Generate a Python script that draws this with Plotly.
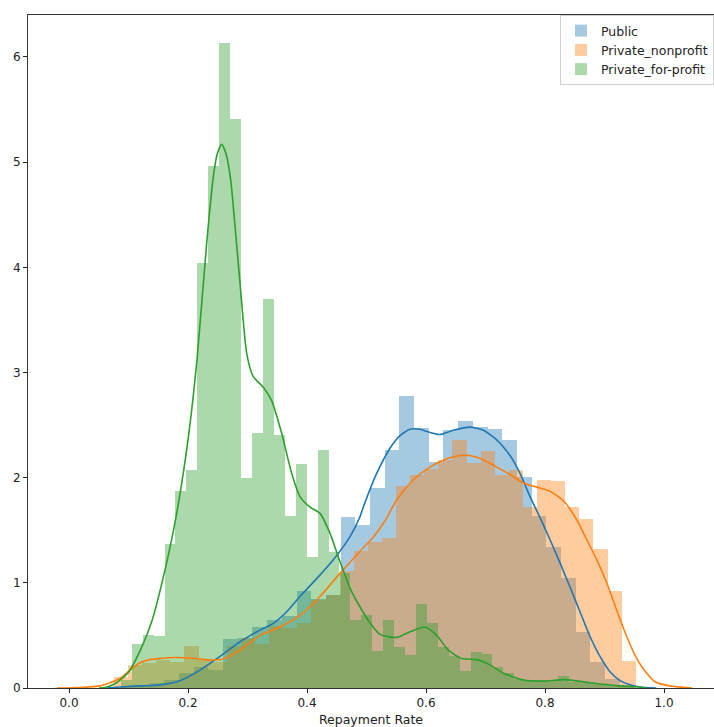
import numpy as np
import plotly.graph_objects as go

# ---------------- data ----------------
series_names = ["Public", "Private_nonprofit", "Private_for-profit"]

# histogram bins: first left edge, bin width, densities
public_bin_start = 0.0861
public_bin_width = 0.02469
public_density = [0.01, 0.03, 0.05, 0.08, 0.14, 0.20, 0.17, 0.47, 0.48, 0.58,
                  0.65, 0.68, 0.92, 0.85, 0.88, 1.63, 1.55, 1.90, 2.26, 2.78,
                  2.47, 2.15, 2.45, 2.54, 2.48, 2.46, 2.36, 2.01, 1.64, 1.34,
                  1.05, 0.535, 0.25, 0.09, 0.03]

nonprofit_bin_start = 0.0756
nonprofit_bin_width = 0.0237
nonprofit_density = [0.10, 0.22, 0.24, 0.27, 0.25, 0.40, 0.28, 0.25, 0.40, 0.48,
                     0.42, 0.59, 0.57, 0.62, 0.84, 0.88, 1.11, 1.30, 1.39, 1.43,
                     1.92, 2.03, 2.08, 2.17, 2.36, 2.14, 2.25, 2.03, 2.07, 1.72,
                     1.98, 1.97, 1.72, 1.61, 1.32, 0.92, 0.26]

forprofit_bin_start = 0.0871
forprofit_bin_width = 0.01837
forprofit_density = [0.08, 0.42, 0.50, 0.49, 1.37, 1.87, 2.07, 4.04, 4.96, 6.13,
                     5.41, 2.00, 2.42, 3.70, 2.41, 1.64, 2.13, 1.25, 2.26, 1.29,
                     1.09, 0.65, 0.69, 0.35, 0.65, 0.39, 0.31, 0.80, 0.62, 0.39,
                     0.30, 0.165, 0.34, 0.32, 0.20, 0.14, 0.09, 0.08, 0.08, 0.07,
                     0.11, 0.06, 0.05, 0.04, 0.03, 0.02, 0.01]

# KDE curves
public_kde_x = [0.0605, 0.0857, 0.1193, 0.1529, 0.1866, 0.2202, 0.2538, 0.2874,
                0.3210, 0.3434, 0.3659, 0.3882, 0.4163, 0.4442, 0.4723, 0.4891,
                0.4946, 0.5171, 0.5395, 0.5563, 0.5731, 0.5899, 0.6067, 0.6235,
                0.6459, 0.6739, 0.6963, 0.7188, 0.7412, 0.7580, 0.7748, 0.7916,
                0.8084, 0.8252, 0.8420, 0.8588, 0.8756, 0.8924, 0.9092, 0.9261,
                0.9429, 0.9597, 0.9866]
public_kde_y = [0.0, 0.01, 0.02, 0.03, 0.07, 0.17, 0.30, 0.44,
                0.55, 0.615, 0.725, 0.87, 1.04, 1.22, 1.44, 1.63,
                1.72, 2.04, 2.28, 2.40, 2.46, 2.46, 2.43, 2.41,
                2.45, 2.48, 2.45, 2.36, 2.21, 2.04, 1.82, 1.62,
                1.41, 1.19, 0.96, 0.725, 0.49, 0.30, 0.155, 0.07,
                0.03, 0.01, 0.0]

nonprofit_kde_x = [-0.0202, 0.0185, 0.0521, 0.0689, 0.0857, 0.1025, 0.1193, 0.1361,
                   0.1529, 0.1782, 0.2034, 0.2202, 0.2370, 0.2588, 0.2874, 0.3210,
                   0.3546, 0.3882, 0.4218, 0.4555, 0.4891, 0.5109, 0.5311, 0.5508,
                   0.5787, 0.6067, 0.6348, 0.6571, 0.6739, 0.6963, 0.7188, 0.7412,
                   0.7635, 0.7861, 0.8084, 0.8308, 0.8533, 0.8701, 0.8869, 0.9037,
                   0.9205, 0.9373, 0.9541, 0.9709, 0.9849, 1.0101, 1.0471]
nonprofit_kde_y = [0.0, 0.005, 0.02, 0.05, 0.09, 0.17, 0.24, 0.27,
                   0.28, 0.29, 0.285, 0.275, 0.265, 0.275, 0.36, 0.50,
                   0.58, 0.69, 0.87, 1.09, 1.30, 1.43, 1.59, 1.79,
                   1.98, 2.10, 2.18, 2.21, 2.21, 2.17, 2.10, 2.03,
                   1.95, 1.91, 1.87, 1.78, 1.60, 1.41, 1.22, 1.00,
                   0.74, 0.49, 0.28, 0.14, 0.06, 0.02, 0.0]

forprofit_kde_x = [0.0504, 0.0639, 0.0800, 0.1000, 0.1200, 0.1400, 0.1600, 0.1800,
                   0.2000, 0.2156, 0.2314, 0.2425, 0.2492, 0.2566, 0.2639, 0.2718,
                   0.2790, 0.2874, 0.2987, 0.3097, 0.3266, 0.3407, 0.3575, 0.3743,
                   0.3882, 0.4050, 0.4218, 0.4387, 0.4543, 0.4723, 0.4891, 0.5059,
                   0.5227, 0.5508, 0.5731, 0.5983, 0.6180, 0.6375, 0.6600, 0.6852,
                   0.7076, 0.7299, 0.7635, 0.7971, 0.8336, 0.8756, 0.9261, 0.9597,
                   0.9714]
forprofit_kde_y = [0.0, 0.01, 0.05, 0.15, 0.36, 0.65, 1.09, 1.63,
                   2.36, 3.15, 4.23, 4.86, 5.08, 5.17, 5.08, 4.83,
                   4.39, 3.85, 3.18, 2.96, 2.86, 2.73, 2.42, 2.04,
                   1.82, 1.72, 1.66, 1.47, 1.22, 0.95, 0.77, 0.62,
                   0.51, 0.48, 0.535, 0.58, 0.50, 0.36, 0.28, 0.27,
                   0.22, 0.14, 0.076, 0.065, 0.08, 0.05, 0.02, 0.01,
                   0.0]

x_tick_vals = [0.0, 0.2, 0.4, 0.6, 0.8, 1.0]
x_tick_text = ["0.0", "0.2", "0.4", "0.6", "0.8", "1.0"]
y_tick_vals = [0, 1, 2, 3, 4, 5, 6]
x_title = "Repayment Rate"

# ---------------- styling ----------------
colors = ["31,119,180", "255,127,14", "44,160,44"]
FONT = "DejaVu Sans, Verdana, sans-serif"

hists = [
    (public_bin_start, public_bin_width, public_density),
    (nonprofit_bin_start, nonprofit_bin_width, nonprofit_density),
    (forprofit_bin_start, forprofit_bin_width, forprofit_density),
]
kdes = [
    (public_kde_x, public_kde_y),
    (nonprofit_kde_x, nonprofit_kde_y),
    (forprofit_kde_x, forprofit_kde_y),
]

fig = go.Figure()
for name, col, (start, width, dens), (kx, ky) in zip(series_names, colors, hists, kdes):
    centers = start + width * (np.arange(len(dens)) + 0.5)
    fig.add_trace(go.Bar(
        x=centers, y=dens, width=width, name=name,
        marker=dict(color=f"rgba({col},0.4)", line=dict(width=0)),
        hoverinfo="skip",
    ))
    fig.add_trace(go.Scatter(
        x=kx, y=ky, mode="lines", showlegend=False,
        line=dict(color=f"rgb({col})", width=1.6, shape="spline", smoothing=0.6),
        hoverinfo="skip",
    ))

fig.update_layout(
    width=714, height=727,
    margin=dict(l=28, r=0, t=15, b=39, autoexpand=False),
    barmode="overlay", bargap=0,
    plot_bgcolor="white", paper_bgcolor="white",
    font=dict(family=FONT, size=12.5, color="#222"),
    legend=dict(
        x=1.0, y=1.0, xanchor="right", yanchor="top",
        bgcolor="rgba(255,255,255,0.9)", bordercolor="#d0d0d0", borderwidth=1,
        font=dict(size=12.5, color="#222"), tracegroupgap=0,
        itemwidth=30,
    ),
)
fig.update_xaxes(
    range=[-0.0689, 1.0840], tickvals=x_tick_vals, ticktext=x_tick_text,
    ticks="outside", ticklen=4, tickcolor="#222", tickwidth=1,
    showline=True, linecolor="#333", linewidth=1, mirror=True,
    showgrid=False, zeroline=False, automargin=False,
    title=dict(text=x_title, font=dict(size=12.5), standoff=6),
    tickfont=dict(size=12),
)
fig.update_yaxes(
    range=[0, 6.399], tickvals=y_tick_vals,
    ticks="outside", ticklen=4, tickcolor="#222", tickwidth=1,
    showline=True, linecolor="#333", linewidth=1, mirror=True,
    showgrid=False, zeroline=False, automargin=False,
    tickfont=dict(size=12),
)

fig.write_html(
    "out.html",
    config={"displayModeBar": False, "staticPlot": True},
    post_script="document.body.style.margin='0';document.body.style.overflow='hidden';",
)
